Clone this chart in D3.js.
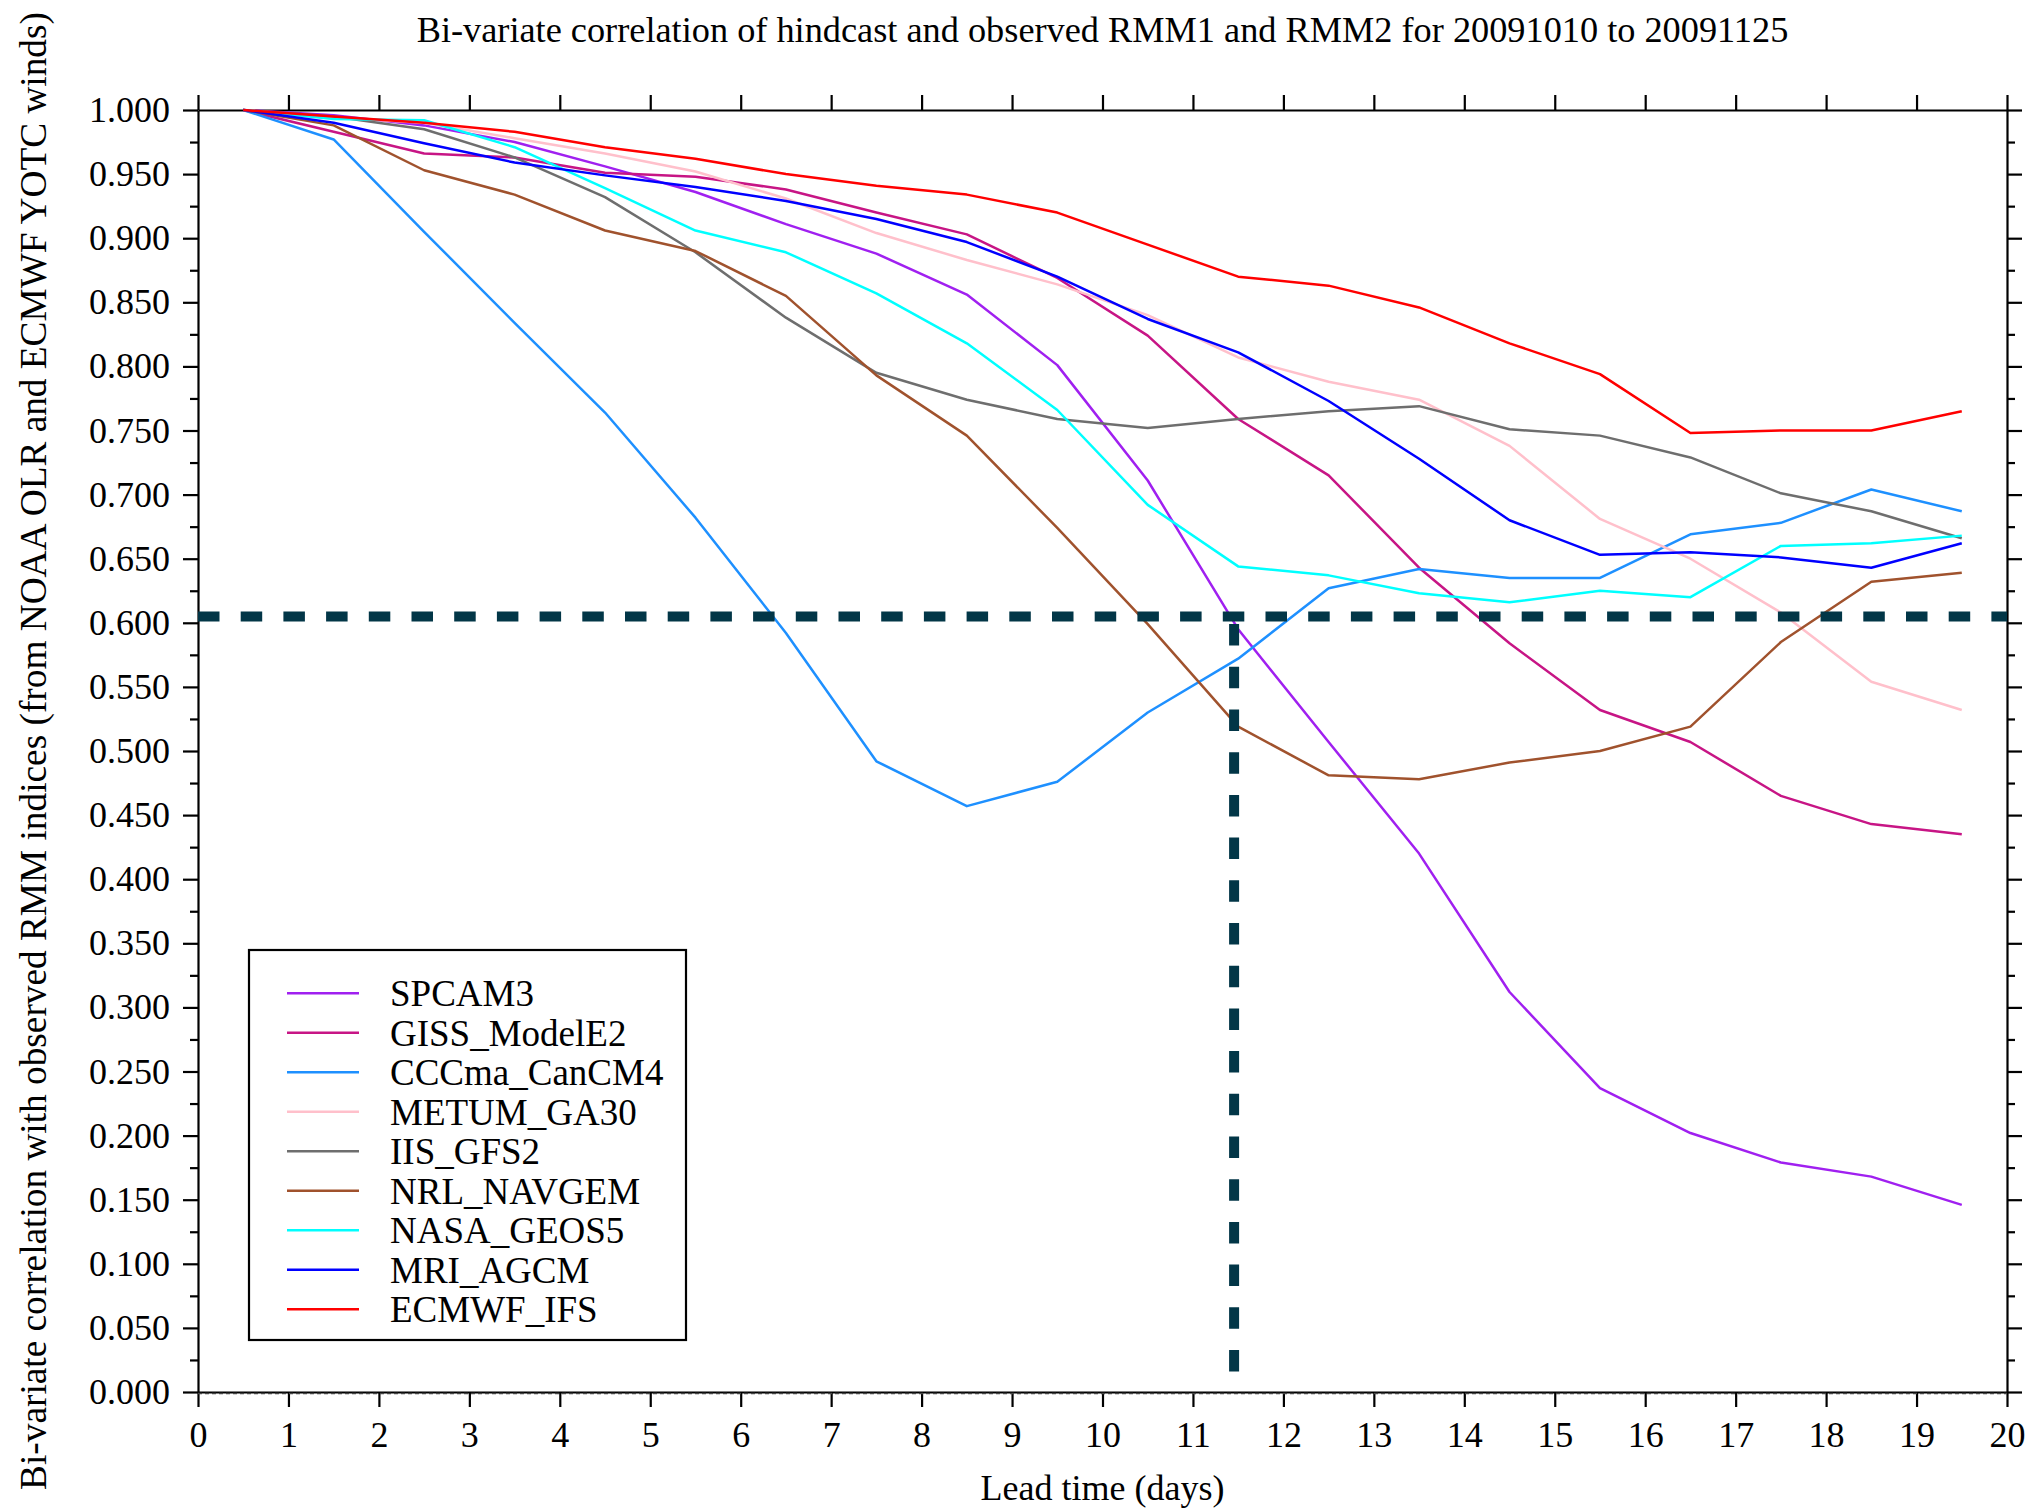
<!DOCTYPE html>
<html>
<head>
<meta charset="utf-8">
<script src="https://cdn.jsdelivr.net/npm/d3@7"></script>
<style>
  html, body { margin: 0; padding: 0; background: #fff; }
  svg text { font-family: "Liberation Serif", "Times New Roman", serif; fill: #000; }
  .axis path, .axis line { stroke: #000; stroke-width: 2.2; }
</style>
</head>
<body>
<div id="chart"></div>
<script>
// Lead times (days) where each model value sits
const leadDays = [0.5, 1.5, 2.5, 3.5, 4.5, 5.5, 6.5, 7.5, 8.5, 9.5,
                  10.5, 11.5, 12.5, 13.5, 14.5, 15.5, 16.5, 17.5, 18.5, 19.5];

const modelNames = ["SPCAM3", "GISS_ModelE2", "CCCma_CanCM4", "METUM_GA30", "IIS_GFS2",
                    "NRL_NAVGEM", "NASA_GEOS5", "MRI_AGCM", "ECMWF_IFS"];
const modelColors = ["#a020f0", "#c71585", "#1e90ff", "#ffc0cb", "#6e6e6e",
                     "#a0522d", "#00ffff", "#0000ff", "#ff0000"];

const spcam3  = [1.000, 0.996, 0.988, 0.975, 0.956, 0.936, 0.911, 0.888, 0.856, 0.801,
                 0.711, 0.595, 0.507, 0.420, 0.312, 0.237, 0.202, 0.179, 0.168, 0.146];
const giss    = [1.000, 0.983, 0.966, 0.963, 0.951, 0.948, 0.938, 0.920, 0.903, 0.869,
                 0.824, 0.759, 0.715, 0.643, 0.584, 0.532, 0.507, 0.465, 0.443, 0.435];
const cccma   = [1.000, 0.977, 0.905, 0.834, 0.764, 0.682, 0.592, 0.492, 0.457, 0.476,
                 0.530, 0.572, 0.627, 0.642, 0.635, 0.635, 0.669, 0.678, 0.704, 0.687];
const metum   = [1.000, 0.994, 0.990, 0.978, 0.966, 0.952, 0.931, 0.904, 0.883, 0.864,
                 0.840, 0.807, 0.788, 0.774, 0.738, 0.681, 0.650, 0.608, 0.554, 0.532];
const iisGfs  = [1.000, 0.995, 0.985, 0.963, 0.932, 0.889, 0.838, 0.795, 0.774, 0.759,
                 0.752, 0.759, 0.765, 0.769, 0.751, 0.746, 0.729, 0.701, 0.687, 0.666];
const nrl     = [1.000, 0.988, 0.953, 0.934, 0.906, 0.890, 0.855, 0.793, 0.746, 0.674,
                 0.599, 0.519, 0.481, 0.478, 0.491, 0.500, 0.519, 0.585, 0.632, 0.639];
const nasa    = [1.000, 0.993, 0.992, 0.971, 0.939, 0.906, 0.889, 0.857, 0.818, 0.766,
                 0.692, 0.644, 0.637, 0.623, 0.616, 0.625, 0.620, 0.660, 0.662, 0.668];
const mri     = [1.000, 0.990, 0.974, 0.959, 0.949, 0.940, 0.929, 0.915, 0.897, 0.870,
                 0.837, 0.811, 0.773, 0.728, 0.680, 0.653, 0.655, 0.651, 0.643, 0.662];
const ecmwf   = [1.000, 0.995, 0.990, 0.983, 0.971, 0.962, 0.950, 0.941, 0.934, 0.920,
                 0.895, 0.870, 0.863, 0.846, 0.818, 0.794, 0.748, 0.750, 0.750, 0.765];

const modelValues = [spcam3, giss, cccma, metum, iisGfs, nrl, nasa, mri, ecmwf];

// threshold cross (dashed): horizontal level and the day where it is crossed
const thresholdValue = 0.605;
const thresholdDay   = 11.455;
const thresholdFloor = 0.016;

const xTicks = d3.range(0, 21);          // 0 … 20
const yMajor = d3.range(0, 1.0001, 0.05);
const yMinor = d3.range(0.025, 1, 0.05);

const titleText  = "Bi-variate correlation of hindcast and observed RMM1 and RMM2 for 20091010 to 20091125";
const xLabelText = "Lead time (days)";
const yLabelText = "Bi-variate correlation with observed RMM indices (from NOAA OLR and ECMWF YOTC winds)";

function drawChart() {
  const width = 2029, height = 1508;
  const margin = { top: 110, right: 22, bottom: 116, left: 198 };
  const innerWidth  = width  - margin.left - margin.right;
  const innerHeight = height - margin.top  - margin.bottom;

  const root = d3.select("#chart").append("svg")
    .attr("width", width)
    .attr("height", height);

  const svg = root.append("g")
    .attr("transform", `translate(${margin.left}, ${margin.top})`);

  // 1) scales
  const xScale = d3.scaleLinear().domain([0, 20]).range([0, innerWidth]);
  const yScale = d3.scaleLinear().domain([0, 1]).range([innerHeight, 0]);

  // 2) axes on all four sides, ticks pointing outwards
  const fmt = d3.format(".3f");
  svg.append("g")
    .attr("class", "axis")
    .attr("transform", `translate(0, ${innerHeight})`)
    .call(d3.axisBottom(xScale).tickValues(xTicks).tickSize(15).tickSizeOuter(0).tickPadding(14))
    .call(g => g.selectAll("text").attr("font-size", 36));

  svg.append("g")
    .attr("class", "axis")
    .call(d3.axisTop(xScale).tickValues(xTicks).tickSize(15).tickSizeOuter(0).tickFormat(""));

  svg.append("g")
    .attr("class", "axis")
    .call(d3.axisLeft(yScale).tickValues(yMajor).tickSize(15).tickSizeOuter(0).tickPadding(13).tickFormat(fmt))
    .call(g => g.selectAll("text").attr("font-size", 36));
  svg.append("g")
    .attr("class", "axis")
    .call(d3.axisLeft(yScale).tickValues(yMinor).tickSize(8).tickSizeOuter(0).tickFormat(""))
    .call(g => g.select(".domain").remove());

  svg.append("g")
    .attr("class", "axis")
    .attr("transform", `translate(${innerWidth}, 0)`)
    .call(d3.axisRight(yScale).tickValues(yMajor).tickSize(15).tickSizeOuter(0).tickFormat(""));
  svg.append("g")
    .attr("class", "axis")
    .attr("transform", `translate(${innerWidth}, 0)`)
    .call(d3.axisRight(yScale).tickValues(yMinor).tickSize(8).tickSizeOuter(0).tickFormat(""))
    .call(g => g.select(".domain").remove());

  // thin dashed zero line under the bottom axis
  svg.append("line")
    .attr("x1", xScale(0)).attr("x2", xScale(20))
    .attr("y1", yScale(0) + 1.5).attr("y2", yScale(0) + 1.5)
    .attr("stroke", "#444").attr("stroke-width", 1.5)
    .attr("stroke-dasharray", "4,3");

  // 3) model lines
  const line = d3.line()
    .x((d, i) => xScale(leadDays[i]))
    .y(d => yScale(d));

  modelValues.forEach((vals, k) => {
    svg.append("path")
      .attr("fill", "none")
      .attr("stroke", modelColors[k])
      .attr("stroke-width", 2.5)
      .attr("stroke-linejoin", "round")
      .attr("d", line(vals));
  });

  // 4) dashed threshold cross
  svg.append("line")
    .attr("x1", xScale(0)).attr("x2", xScale(20))
    .attr("y1", yScale(thresholdValue)).attr("y2", yScale(thresholdValue))
    .attr("stroke", "#023647").attr("stroke-width", 10)
    .attr("stroke-dasharray", "21.5,21.2");

  svg.append("line")
    .attr("x1", xScale(thresholdDay)).attr("x2", xScale(thresholdDay))
    .attr("y1", yScale(thresholdFloor)).attr("y2", yScale(thresholdValue))
    .attr("stroke", "#023647").attr("stroke-width", 10)
    .attr("stroke-dasharray", "21.5,21.2");

  // 5) legend box
  const legend = root.append("g").attr("transform", "translate(249, 950)");
  legend.append("rect")
    .attr("width", 437).attr("height", 390)
    .attr("fill", "#fff").attr("stroke", "#000").attr("stroke-width", 2.2);

  modelNames.forEach((name, k) => {
    const yRow = 43.3 + 39.5 * k;
    legend.append("line")
      .attr("x1", 38).attr("x2", 110)
      .attr("y1", yRow).attr("y2", yRow)
      .attr("stroke", modelColors[k]).attr("stroke-width", 2.5);
    legend.append("text")
      .attr("x", 141).attr("y", yRow + 12.7)
      .attr("font-size", 37)
      .text(name);
  });

  // 6) titles
  root.append("text")
    .attr("x", margin.left + innerWidth / 2).attr("y", 42)
    .attr("text-anchor", "middle").attr("font-size", 36.3)
    .text(titleText);

  root.append("text")
    .attr("x", margin.left + innerWidth / 2).attr("y", 1500)
    .attr("text-anchor", "middle").attr("font-size", 36)
    .text(xLabelText);

  root.append("text")
    .attr("transform", `translate(46, ${margin.top + innerHeight / 2}) rotate(-90)`)
    .attr("text-anchor", "middle").attr("font-size", 37.3)
    .text(yLabelText);
}

drawChart();
</script>
</body>
</html>
